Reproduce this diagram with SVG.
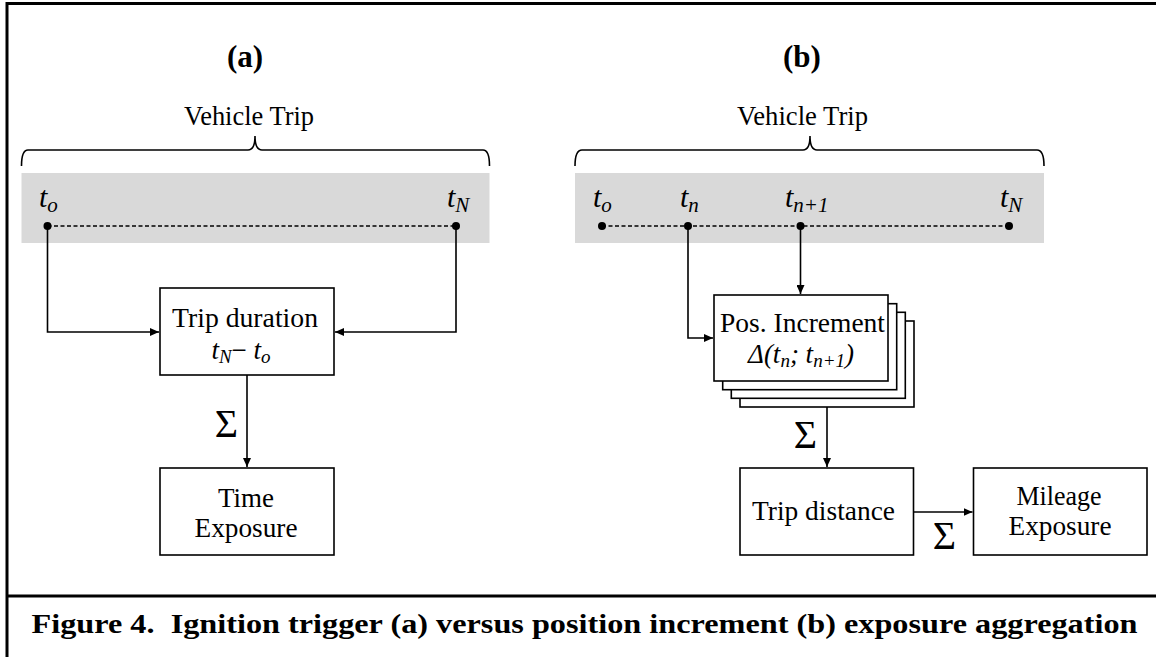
<svg xmlns="http://www.w3.org/2000/svg" width="1156" height="657" viewBox="0 0 1156 657">
<style>
.t{font-family:"Liberation Serif",serif;fill:#000}
.lbl{font-size:27px;text-anchor:middle}
.ttl{font-size:31px;font-weight:bold;text-anchor:middle}
.m{font-style:italic;font-size:30px}
.sub{font-size:21px}
.sig{font-size:40px;text-anchor:end}
.box{fill:#fff;stroke:#000;stroke-width:1.6}
.ln{fill:none;stroke:#000;stroke-width:1.6}
.dash{fill:none;stroke:#000;stroke-width:1.5;stroke-dasharray:4 2.5}
.band{fill:#d9d9d9}
.frame{fill:none;stroke:#000;stroke-width:3}
</style>
<defs>
<marker id="ah" markerWidth="10" markerHeight="8" refX="9" refY="4" orient="auto" markerUnits="userSpaceOnUse">
<path d="M0,0 L9,4 L0,8 Z" fill="#000"/>
</marker>
</defs>
<rect width="1156" height="657" fill="#fff"/>
<g id="frame">
<path class="frame" d="M7,657 L7,3.5 L1156,3.5"/>
<path class="frame" d="M7,596 L1156,596"/>
</g>

<g id="panel-a">
<text class="t ttl" x="245" y="67">(a)</text>
<text class="t lbl" x="249" y="125" textLength="130" lengthAdjust="spacingAndGlyphs">Vehicle Trip</text>
<path class="ln" d="M21.5,166 Q21.5,150 28,150 L248,150 Q255,150 255,136 Q255,150 262,150 L483,150 Q489.5,150 489.5,166"/>
<rect class="band" x="21.5" y="173" width="468" height="70"/>
<text class="t m" x="39" y="207">t<tspan class="sub" dy="5">o</tspan></text>
<text class="t m" x="447" y="207">t<tspan class="sub" dy="5">N</tspan></text>
<line class="dash" x1="47.5" y1="226" x2="456" y2="226"/>
<circle cx="47.5" cy="226" r="4"/>
<circle cx="456" cy="226" r="4"/>
</g>

<g id="node-trip-duration">
<rect class="box" x="160" y="288" width="174" height="87"/>
<text class="t lbl" x="245" y="327" textLength="146" lengthAdjust="spacingAndGlyphs">Trip duration</text>
<text class="t" font-size="27" x="241" y="359" text-anchor="middle"><tspan font-style="italic">t</tspan><tspan font-style="italic" font-size="19" dy="4">N</tspan><tspan dy="-4">− </tspan><tspan font-style="italic">t</tspan><tspan font-style="italic" font-size="19" dy="4">o</tspan></text>
</g>

<g id="node-time-exposure">
<rect class="box" x="160" y="468" width="174" height="87"/>
<text class="t lbl" x="246" y="507" textLength="56" lengthAdjust="spacingAndGlyphs">Time</text>
<text class="t lbl" x="246" y="537" textLength="103" lengthAdjust="spacingAndGlyphs">Exposure</text>
</g>

<g id="panel-b">
<text class="t ttl" x="802" y="67">(b)</text>
<text class="t lbl" x="802.5" y="125" textLength="131" lengthAdjust="spacingAndGlyphs">Vehicle Trip</text>
<path class="ln" d="M575,166 Q575,150 582,150 L803,150 Q810,150 810,136 Q810,150 817,150 L1037,150 Q1044,150 1044,166"/>
<rect class="band" x="575" y="173" width="469" height="70"/>
<text class="t m" x="593" y="207">t<tspan class="sub" dy="5">o</tspan></text>
<text class="t m" x="680" y="207">t<tspan class="sub" dy="5">n</tspan></text>
<text class="t m" x="785" y="207">t<tspan class="sub" dy="5">n+1</tspan></text>
<text class="t m" x="1000" y="207">t<tspan class="sub" dy="5">N</tspan></text>
<line class="dash" x1="602" y1="226" x2="1009" y2="226"/>
<circle cx="602" cy="226" r="4"/>
<circle cx="688" cy="226" r="4"/>
<circle cx="800.5" cy="226" r="4"/>
<circle cx="1009" cy="226" r="4"/>
</g>

<g id="node-pos-increment">
<rect class="box" x="740" y="321" width="174" height="86"/>
<rect class="box" x="731.3" y="312.3" width="174" height="86"/>
<rect class="box" x="722.7" y="303.7" width="174" height="86"/>
<rect class="box" x="714" y="295" width="174" height="86"/>
<text class="t lbl" x="802.5" y="332" textLength="165" lengthAdjust="spacingAndGlyphs">Pos. Increment</text>
<text class="t" font-size="27" font-style="italic" x="801" y="363" text-anchor="middle">Δ(t<tspan font-size="19" dy="4">n</tspan><tspan dy="-4">; t</tspan><tspan font-size="19" dy="4">n+1</tspan><tspan dy="-4">)</tspan></text>
</g>

<g id="node-trip-distance">
<rect class="box" x="740" y="468" width="173.5" height="87"/>
<text class="t lbl" x="823.5" y="520" textLength="143" lengthAdjust="spacingAndGlyphs">Trip distance</text>
</g>

<g id="node-mileage-exposure">
<rect class="box" x="973.5" y="468" width="173.5" height="87"/>
<text class="t lbl" x="1059" y="505" textLength="85" lengthAdjust="spacingAndGlyphs">Mileage</text>
<text class="t lbl" x="1060" y="535" textLength="103" lengthAdjust="spacingAndGlyphs">Exposure</text>
</g>

<g id="connectors">
<path class="ln" d="M47.5,226 L47.5,332 L159,332" marker-end="url(#ah)"/>
<path class="ln" d="M456,226 L456,332 L335,332" marker-end="url(#ah)"/>
<path class="ln" d="M247,375 L247,467" marker-end="url(#ah)"/>
<text class="t sig" x="238" y="437">Σ</text>
<path class="ln" d="M688,226 L688,338 L713,338" marker-end="url(#ah)"/>
<path class="ln" d="M800.5,226 L800.5,294" marker-end="url(#ah)"/>
<path class="ln" d="M827,407 L827,467" marker-end="url(#ah)"/>
<text class="t sig" x="817" y="448">Σ</text>
<path class="ln" d="M913.5,512 L972.5,512" marker-end="url(#ah)"/>
<text class="t sig" x="956" y="549">Σ</text>
</g>

<g id="caption">
<text class="t" font-size="27" font-weight="bold" x="31.5" y="633" textLength="1106" lengthAdjust="spacingAndGlyphs">Figure 4.&#160; Ignition trigger (a) versus position increment (b) exposure aggregation</text>
</g>
</svg>
